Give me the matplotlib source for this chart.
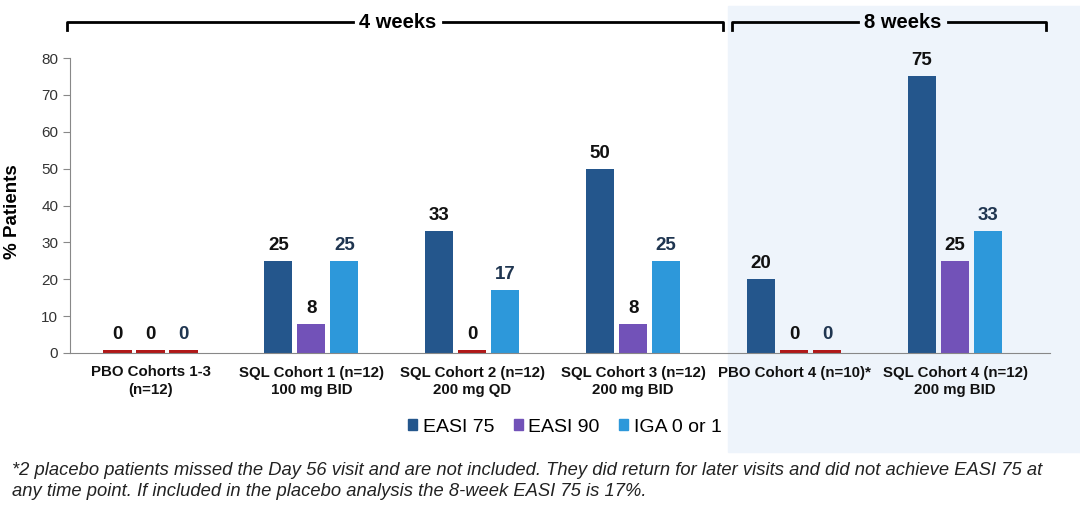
import numpy as np
import matplotlib.pyplot as plt
from matplotlib.patches import Rectangle
from matplotlib.lines import Line2D

plt.rcParams['font.family'] = ['Liberation Sans', 'DejaVu Sans']

categories = ["PBO Cohorts 1-3\n(n=12)", "SQL Cohort 1 (n=12)\n100 mg BID",
              "SQL Cohort 2 (n=12)\n200 mg QD", "SQL Cohort 3 (n=12)\n200 mg BID",
              "PBO Cohort 4 (n=10)*", "SQL Cohort 4 (n=12)\n200 mg BID"]
easi75 = [0, 25, 33, 50, 20, 75]
easi90 = [0, 8, 0, 8, 0, 25]
iga01 = [0, 25, 17, 25, 0, 33]
series_names = ["EASI 75", "EASI 90", "IGA 0 or 1"]
colors = ["#24568C", "#7252B8", "#2D98DA"]
label_colors = ["#111111", "#111111", "#1F3550"]
zero_color = "#B01818"
footnote = ("*2 placebo patients missed the Day 56 visit and are not included. They did return for later visits and did not achieve EASI 75 at\n"
            "any time point. If included in the placebo analysis the 8-week EASI 75 is 17%.")

fig = plt.figure(figsize=(10.8, 5.08), dpi=100)

# shaded 8-week panel
fig.patches.append(Rectangle((728/1080, 1-452/508), 352/1080, 446/508,
                             transform=fig.transFigure, color="#EEF4FB", zorder=-5))

ax = fig.add_axes([70/1080, 1-353/508, 980/1080, 295/508])
ax.patch.set_alpha(0)
x = np.arange(len(categories))
w = 0.175
off = 0.205
for k, vals in enumerate([easi75, easi90, iga01]):
    for i, v in enumerate(vals):
        xp = x[i] + (k-1)*off
        if v == 0:
            ax.bar(xp, 0.8, w, color=zero_color)
        else:
            ax.bar(xp, v, w, color=colors[k])
        ax.annotate(str(v), (xp, max(v, 0.8)), xytext=(0, 5), textcoords="offset points",
                    ha="center", va="bottom", fontsize=13.5, fontweight="bold", color=label_colors[k])

ax.set_xlim(-0.5, 5.59)
ax.set_ylim(0, 80)
ax.set_yticks(range(0, 81, 10))
ax.tick_params(axis='y', labelsize=11, color="#888888", length=5, labelcolor="#333333")
ax.set_xticks(x)
ax.set_xticklabels(categories, fontsize=10.8, fontweight="bold", color="#111111", linespacing=1.3)
ax.tick_params(axis='x', length=0, pad=9)
for s in ["top", "right"]:
    ax.spines[s].set_visible(False)
ax.spines["left"].set_color("#888888")
ax.spines["bottom"].set_color("#888888")
ax.set_ylabel("% Patients", fontsize=13.5, fontweight="bold")
ax.yaxis.set_label_coords(-0.05, 0.48)

# brackets
def bracket(x0, x1, xt, text):
    y = 1-22/508
    yb = 1-30/508
    tw = 80/1080
    fig.add_artist(Line2D([x0, x0, xt-tw/2-0.005], [yb, y, y], transform=fig.transFigure, color="black", lw=2))
    fig.add_artist(Line2D([xt+tw/2+0.005, x1, x1], [y, y, yb], transform=fig.transFigure, color="black", lw=2))
    fig.text(xt, y, text, ha="center", va="center", fontsize=14.5, fontweight="bold")

bracket(67/1080, 723/1080, 398/1080, "4 weeks")
bracket(732/1080, 1046/1080, 903/1080, "8 weeks")

handles = [Rectangle((0, 0), 1, 1, color=c) for c in colors]
fig.legend(handles, series_names, loc="center", bbox_to_anchor=(565/1080, 1-427/508), ncol=3,
           frameon=False, fontsize=14, handlelength=0.45, handleheight=0.45, handletextpad=0.3,
           columnspacing=1.0)

fig.text(12/1080, 1-481/508, footnote, ha="left", va="center", fontsize=13.2, style="italic",
         color="#222222", linespacing=1.25)

fig.savefig("out.png", dpi=100)
